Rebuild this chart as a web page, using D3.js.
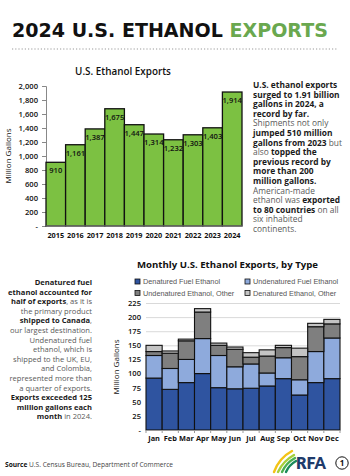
<!DOCTYPE html>
<html lang="en">
<head>
<meta charset="UTF-8">
<title>2024 U.S. Ethanol Exports</title>
<style>
  body { margin: 0; background: #fff; }
  svg { display: block; font-family: "Open Sans", sans-serif; }
  .grid line { stroke: #d9d9d9; }
  .grid path { display: none; }
</style>
</head>
<body>
<script src="https://d3js.org/d3.v7.min.js"></script>
<script>
// annual exports, million gallons
const years = ["2015", "2016", "2017", "2018", "2019", "2020", "2021", "2022", "2023", "2024"];
const annualExports = [910, 1161, 1387, 1675, 1447, 1314, 1232, 1303, 1403, 1914];
const annualTicks = [0, 200, 400, 600, 800, 1000, 1200, 1400, 1600, 1800, 2000];

// monthly exports by type, million gallons
const months = ["Jan", "Feb", "Mar", "Apr", "May", "Jun", "Jul", "Aug", "Sep", "Oct", "Nov", "Dec"];
const denaturedFuel = [92, 72, 84, 100, 75, 73, 74, 78, 91, 62, 84, 91];
const undenaturedFuel = [40, 37, 41, 62, 57, 39, 43, 23, 37, 27, 55, 72];
const undenaturedOther = [7, 27, 33, 47, 18, 31, 12, 30, 18, 41, 44, 25];
const denaturedOther = [11, 4, 3, 6, 4, 4, 8, 11, 4, 15, 6, 8];
const typeNames = ["Denatured Fuel Ethanol", "Undenatured Fuel Ethanol", "Undenatured Ethanol, Other", "Denatured Ethanol, Other"];
const typeColors = ["#2f54a0", "#8eaadc", "#7f7f7f", "#c4c4c4"];
const monthlyTicks = [0, 25, 50, 75, 100, 125, 150, 175, 200, 225];

const W = 350, H = 476;
const svg = d3.select("body").append("svg").attr("width", W).attr("height", H);

const fmtTick = d => d === 0 ? "-" : d3.format(",")(d);

// scale a text element's font so its width hits a target
function fitWidth(sel, target) {
  const w = sel.node().getComputedTextLength();
  const fs = parseFloat(sel.attr("font-size"));
  sel.attr("font-size", fs * target / w);
}

// ---- header ----
const title = svg.append("text").attr("x", 12).attr("y", 37)
  .attr("font-size", 20).attr("font-weight", 700).attr("fill", "#111")
  .attr("font-family", "\"DejaVu Sans\", sans-serif");
title.append("tspan").text("2024 U.S. ETHANOL ");
title.append("tspan").attr("fill", "#6aa84f").text("EXPORTS");
fitWidth(title, 316);

svg.append("line").attr("x1", 12).attr("x2", 338).attr("y1", 49).attr("y2", 49)
  .attr("stroke", "#9a9a9a").attr("stroke-width", 1.2).attr("stroke-dasharray", "1.2,2");

// ---- annual chart ----
const x1 = d3.scaleBand().domain(years).range([46, 242]).padding(0);
const y1 = d3.scaleLinear().domain([0, 2000]).range([226, 86]);

const t1 = svg.append("text").attr("x", 123).attr("y", 75).attr("text-anchor", "middle")
  .attr("font-size", 10).attr("font-weight", 600).attr("fill", "#111").text("U.S. Ethanol Exports");
fitWidth(t1, 96);

const ax1 = svg.append("g").attr("transform", "translate(46,0)")
  .call(d3.axisLeft(y1).tickValues(annualTicks).tickFormat(fmtTick).tickSize(4).tickPadding(4));
ax1.select(".domain").attr("stroke", "#888");
ax1.selectAll(".tick line").attr("stroke", "#888");
ax1.selectAll("text").attr("font-size", 7.6).attr("font-weight", 600).attr("fill", "#111")
  .attr("font-family", "\"Open Sans\", sans-serif");

svg.append("text").attr("transform", "translate(11,156) rotate(-90)").attr("text-anchor", "middle")
  .attr("font-size", 8).attr("fill", "#111").text("Million Gallons");

svg.append("g").selectAll("rect").data(annualExports).join("rect")
  .attr("x", (d, i) => x1(years[i]))
  .attr("y", d => y1(d))
  .attr("width", x1.bandwidth())
  .attr("height", d => y1(0) - y1(d))
  .attr("fill", "#7cc142").attr("stroke", "#111").attr("stroke-width", 1.3);

svg.append("g").selectAll("text").data(annualExports).join("text")
  .attr("x", (d, i) => x1(years[i]) + x1.bandwidth() / 2)
  .attr("y", d => y1(d) + 11)
  .attr("text-anchor", "middle")
  .attr("font-size", 7.6).attr("font-weight", 600).attr("fill", "#111")
  .text(d => d3.format(",")(d));

svg.append("line").attr("x1", 46).attr("x2", 242).attr("y1", 226).attr("y2", 226).attr("stroke", "#888");

svg.append("g").selectAll("text").data(years).join("text")
  .attr("x", d => x1(d) + x1.bandwidth() / 2).attr("y", 238)
  .attr("text-anchor", "middle").attr("font-size", 7.3).attr("font-weight", 700).attr("fill", "#111")
  .text(d => d);

// ---- text blocks ----
function textBlock(lines, x, y0, lh, anchor, target) {
  const g = svg.append("g");
  const texts = lines.map((segs, i) => {
    const t = g.append("text").attr("x", x).attr("y", y0 + i * lh)
      .attr("text-anchor", anchor).attr("font-size", 10);
    segs.forEach(([s, b]) => t.append("tspan")
      .attr("font-weight", b ? 700 : 400).attr("fill", b ? "#1a1a1a" : "#5a5a5a").text(s));
    return t;
  });
  const maxW = d3.max(texts, t => t.node().getComputedTextLength());
  texts.forEach(t => t.attr("font-size", 10 * target / maxW));
}

textBlock([
  [["U.S. ethanol exports", 1]],
  [["surged to 1.91 billion", 1]],
  [["gallons in 2024, a", 1]],
  [["record by far.", 1]],
  [["Shipments not only", 0]],
  [["jumped 510 million", 1]],
  [["gallons from 2023", 1], [" but", 0]],
  [["also ", 0], ["topped the", 1]],
  [["previous record by", 1]],
  [["more than 200", 1]],
  [["million gallons.", 1]],
  [["American-made", 0]],
  [["ethanol was ", 0], ["exported", 1]],
  [["to 80 countries", 1], [" on all", 0]],
  [["six inhabited", 0]],
  [["continents.", 0]]
], 253, 88, 9.6, "start", 89);

textBlock([
  [["Denatured fuel", 1]],
  [["ethanol accounted for", 1]],
  [["half of exports", 1], [", as it is", 0]],
  [["the primary product", 0]],
  [["shipped to Canada", 1], [",", 0]],
  [["our largest destination.", 0]],
  [["Undenatured fuel", 0]],
  [["ethanol, which is", 0]],
  [["shipped to the UK, EU,", 0]],
  [["and Colombia,", 0]],
  [["represented more than", 0]],
  [["a quarter of exports.", 0]],
  [["Exports exceeded 125", 1]],
  [["million gallons each", 1]],
  [["month", 1], [" in 2024.", 0]]
], 92, 285, 9.6, "end", 84);

// ---- monthly chart ----
const x2 = d3.scaleBand().domain(months).range([146, 340]).padding(0);
const y2 = d3.scaleLinear().domain([0, 225]).range([430, 303]);

const t2 = svg.append("text").attr("x", 137).attr("y", 268)
  .attr("font-size", 10).attr("font-weight", 700).attr("fill", "#111")
  .text("Monthly U.S. Ethanol Exports, by Type");
fitWidth(t2, 181);

const legend = svg.append("g").attr("font-family", "\"Liberation Sans Narrow\", \"Liberation Sans\", sans-serif");
typeNames.forEach((n, i) => {
  const lx = i % 2 === 0 ? 135 : 245, ly = i < 2 ? 281.5 : 293;
  legend.append("rect").attr("x", lx).attr("y", ly - 2.5).attr("width", 5).attr("height", 5)
    .attr("fill", typeColors[i]).attr("stroke", "#111").attr("stroke-width", 0.8);
  legend.append("text").attr("x", lx + 8).attr("y", ly + 2.5)
    .attr("font-size", 7.3).attr("fill", "#555").text(n);
});

svg.append("g").attr("class", "grid").attr("transform", "translate(146,0)")
  .call(d3.axisLeft(y2).tickValues(monthlyTicks.slice(1)).tickSize(-194).tickFormat(""));

const ax2 = svg.append("g").attr("transform", "translate(146,0)")
  .call(d3.axisLeft(y2).tickValues(monthlyTicks).tickFormat(fmtTick).tickSize(0).tickPadding(5));
ax2.select(".domain").remove();
ax2.selectAll("text").attr("font-size", 7.6).attr("font-weight", 600).attr("fill", "#111")
  .attr("font-family", "\"Open Sans\", sans-serif");

svg.append("text").attr("transform", "translate(119,367) rotate(-90)").attr("text-anchor", "middle")
  .attr("font-size", 8).attr("fill", "#111").text("Million Gallons");

const rows = months.map((m, i) => ({
  month: m, s0: denaturedFuel[i], s1: undenaturedFuel[i], s2: undenaturedOther[i], s3: denaturedOther[i]
}));
const stacked = d3.stack().keys(["s0", "s1", "s2", "s3"])(rows);

svg.append("g").selectAll("g").data(stacked).join("g")
  .attr("fill", (d, i) => typeColors[i])
  .selectAll("rect").data(d => d).join("rect")
  .attr("x", d => x2(d.data.month))
  .attr("y", d => y2(d[1]))
  .attr("width", x2.bandwidth())
  .attr("height", d => y2(d[0]) - y2(d[1]))
  .attr("stroke", "#111").attr("stroke-width", 1.1);

const bx = svg.append("g").attr("transform", "translate(0,430)")
  .call(d3.axisBottom(x2).tickSize(0).tickPadding(6));
bx.select(".domain").attr("stroke", "#999");
bx.selectAll("text").attr("font-size", 7.4).attr("font-weight", 700).attr("fill", "#111")
  .attr("font-family", "\"Open Sans\", sans-serif");
svg.append("g").selectAll("line").data(d3.range(13)).join("line")
  .attr("x1", i => 146 + i * x2.step()).attr("x2", i => 146 + i * x2.step())
  .attr("y1", 430).attr("y2", 433).attr("stroke", "#999");

// ---- footer ----
const src = svg.append("text").attr("x", 5).attr("y", 467).attr("font-size", 6.6).attr("fill", "#444");
src.append("tspan").attr("font-weight", 700).attr("fill", "#111").text("Source");
src.append("tspan").text(" U.S. Census Bureau, Department of Commerce");

const logo = svg.append("g");
[["#f3c316", "M274,472 Q279,458 292,451"], ["#a6cf3b", "M278,472 Q283,461 294,455"],
 ["#4caf50", "M282,472 Q286,463 295,458"], ["#1b8a5a", "M286,472 Q289,465 296,461"]]
  .forEach(([c, p]) => logo.append("path").attr("d", p).attr("fill", "none")
    .attr("stroke", c).attr("stroke-width", 2.4).attr("stroke-linecap", "round"));
logo.append("text").attr("x", 296).attr("y", 469).attr("font-size", 16).attr("font-weight", 800)
  .attr("fill", "#1f3b6b").attr("font-family", "Lato, sans-serif").text("RFA");
svg.append("circle").attr("cx", 342).attr("cy", 463).attr("r", 6.2)
  .attr("fill", "none").attr("stroke", "#111").attr("stroke-width", 1);
svg.append("text").attr("x", 342).attr("y", 466).attr("text-anchor", "middle")
  .attr("font-size", 8).attr("font-weight", 700).attr("fill", "#111").text("1");
</script>
</body>
</html>
